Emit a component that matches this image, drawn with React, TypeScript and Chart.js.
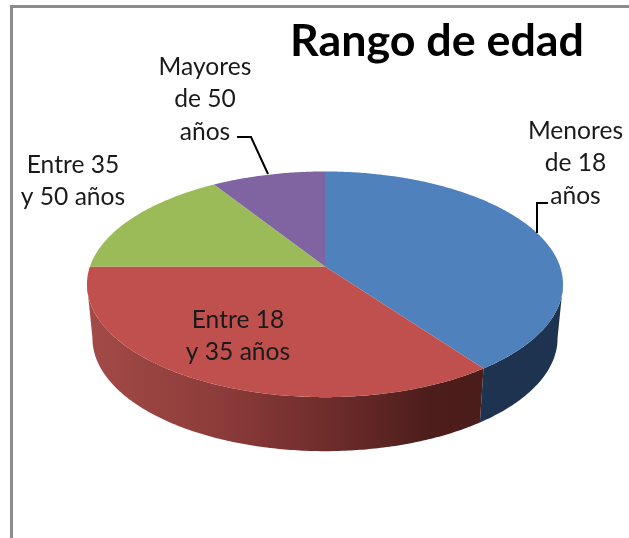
import React, { useEffect, useRef } from "react";
import { Chart, registerables } from "chart.js";

Chart.register(...registerables);

const categories = ["Menores de 18 años", "Entre 18 y 35 años", "Entre 35 y 50 años", "Mayores de 50 años"];
const values = [40, 35, 16, 9];
const sliceColors = ["#4f81bd", "#bf504d", "#9bbb59", "#8064a2"];
const titleText = "Rango de edad";
const labelLines = [
  ["Menores", "de 18", "años"],
  ["Entre 18", "y 35 años"],
  ["Entre 35", "y 50 años"],
  ["Mayores", "de 50", "años"],
];
const labelAnchors = [
  [575.5, 131],
  [238, 320],
  [73, 165],
  [205, 67],
];
const leaders = [
  [[548, 203], [537, 203], [537, 233]],
  null,
  null,
  [[237, 137], [251, 137], [268, 174]],
];

const FONT = "Lato, Carlito, 'Open Sans', sans-serif";
const PERSPECTIVE = -0.159;
const SQUASH = 0.468;
const DEPTH = 54;
const BOTTOM_SCALE = 0.977;
// front wall is visible between these angles (canvas radians)
const SIDE_FROM = (9 * Math.PI) / 180;
const SIDE_TO = (171 * Math.PI) / 180;

function project(arc: any, angle: number) {
  const ux = Math.cos(angle);
  const uy = Math.sin(angle);
  const w = 1 + PERSPECTIVE * uy;
  return {
    x: arc.x + (arc.outerRadius * ux) / w,
    y: arc.y + (arc.outerRadius * SQUASH * uy) / w,
  };
}

function rimPoints(arc: any, from: number, to: number) {
  const n = Math.max(2, Math.ceil(Math.abs(to - from) * 90));
  const pts = [];
  for (let i = 0; i <= n; i++) pts.push(project(arc, from + ((to - from) * i) / n));
  return pts;
}

const pie3d = {
  id: "pie3d",
  beforeDatasetDraw(chart: any, args: any) {
    const ctx = chart.ctx;
    const arcs = chart.getDatasetMeta(args.index).data;
    ctx.save();
    // front wall
    arcs.forEach((arc: any, i: number) => {
      const from = Math.max(arc.startAngle, SIDE_FROM);
      const to = Math.min(arc.endAngle, SIDE_TO);
      if (to <= from) return;
      const pts = rimPoints(arc, from, to);
      ctx.beginPath();
      pts.forEach((p: any, j: number) => (j ? ctx.lineTo(p.x, p.y) : ctx.moveTo(p.x, p.y)));
      for (let j = pts.length - 1; j >= 0; j--) {
        ctx.lineTo(arc.x + (pts[j].x - arc.x) * BOTTOM_SCALE, pts[j].y + DEPTH);
      }
      ctx.closePath();
      if (i === 0) {
        ctx.fillStyle = "#1d334f";
      } else {
        const g = ctx.createLinearGradient(arc.x - arc.outerRadius, 0, arc.x + arc.outerRadius * 0.66, 0);
        g.addColorStop(0, "#a34a47");
        g.addColorStop(0.35, "#8b3b39");
        g.addColorStop(0.62, "#6d2c2b");
        g.addColorStop(0.88, "#4c1d1b");
        g.addColorStop(1, "#4a1c1a");
        ctx.fillStyle = g;
      }
      ctx.fill();
    });
    // top face
    arcs.forEach((arc: any, i: number) => {
      const pts = rimPoints(arc, arc.startAngle, arc.endAngle);
      ctx.beginPath();
      ctx.moveTo(arc.x, arc.y);
      pts.forEach((p: any) => ctx.lineTo(p.x, p.y));
      ctx.closePath();
      ctx.fillStyle = sliceColors[i];
      ctx.fill();
    });
    ctx.restore();
    return false;
  },
  afterDatasetsDraw(chart: any) {
    const ctx = chart.ctx;
    ctx.save();
    ctx.strokeStyle = "#000";
    ctx.lineWidth = 2;
    leaders.forEach((line) => {
      if (!line) return;
      ctx.beginPath();
      line.forEach(([x, y], j) => (j ? ctx.lineTo(x, y) : ctx.moveTo(x, y)));
      ctx.stroke();
    });
    ctx.font = `24.6px ${FONT}`;
    ctx.textAlign = "center";
    ctx.textBaseline = "middle";
    ctx.fillStyle = "#1a1a1a";
    labelLines.forEach((lines, i) => {
      lines.forEach((text, j) => {
        ctx.fillText(text, labelAnchors[i][0], labelAnchors[i][1] + j * 32.5);
      });
    });
    ctx.restore();
  },
};

export default function App() {
  const ref = useRef<HTMLCanvasElement>(null);
  useEffect(() => {
    const chart = new Chart(ref.current as HTMLCanvasElement, {
      type: "pie",
      data: {
        labels: categories,
        datasets: [{ data: values, backgroundColor: sliceColors, borderWidth: 0 }],
      },
      options: {
        responsive: false,
        animation: false,
        radius: 235,
        layout: { padding: { left: 66, right: 45, top: 0, bottom: 74 } },
        plugins: {
          legend: { display: false },
          tooltip: { enabled: false },
          title: {
            display: true,
            text: titleText,
            align: "end",
            color: "#000",
            font: { family: FONT, size: 44.8, weight: "bold" },
            padding: { top: 15, bottom: 0 },
          },
        },
      },
      plugins: [pie3d],
    } as any);
    return () => chart.destroy();
  }, []);
  return (
    <div style={{ position: "absolute", left: 0, top: 0, width: 629, height: 538, overflow: "hidden", background: "#fff" }}>
      <div
        style={{
          position: "absolute",
          left: 10,
          top: 5,
          width: 640,
          height: 560,
          borderLeft: "3px solid #8c8c8c",
          borderTop: "3px solid #8c8c8c",
        }}
      />
      <canvas ref={ref} width={629} height={538} style={{ position: "absolute", left: 0, top: 0, filter: "blur(0.4px)" }} />
    </div>
  );
}
